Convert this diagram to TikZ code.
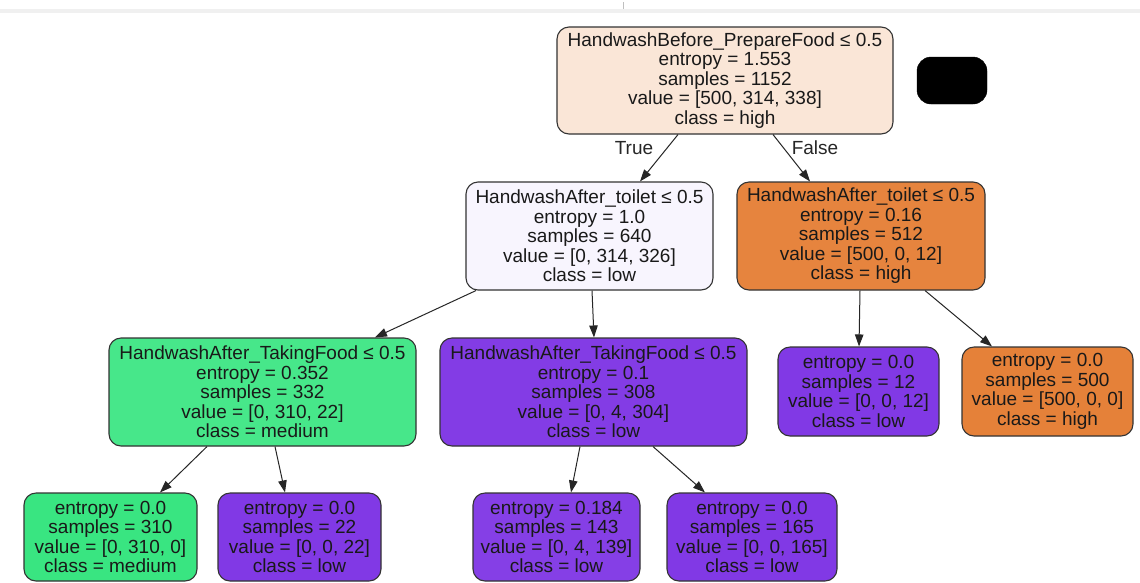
\documentclass[tikz,border=0pt]{standalone}
\usepackage{fontspec}
\setmainfont{Liberation Sans}
\usetikzlibrary{arrows.meta}
\definecolor{rootc}{HTML}{FAE6D7}
\definecolor{lowlt}{HTML}{F8F5FE}
\definecolor{higha}{HTML}{E6843E}
\definecolor{highc}{HTML}{E58139}
\definecolor{meda}{HTML}{47E78A}
\definecolor{medc}{HTML}{39E581}
\definecolor{lowa}{HTML}{833CE5}
\definecolor{lowc}{HTML}{8139E5}
\definecolor{lowb}{HTML}{853FE6}
\definecolor{edgec}{HTML}{333333}
\begin{document}
\begin{tikzpicture}[x=1pt,y=-1pt,
  box/.style={draw=edgec, line width=1.1pt, rounded corners=12pt, align=center,
    inner sep=0pt, font=\fontsize{19}{19.5}\selectfont, text=black!90},
  conn/.style={-{Triangle[length=12pt,width=8.5pt]}, line width=1pt, draw=black!85},
  lbl/.style={font=\fontsize{19}{19.5}\selectfont, inner sep=0pt, text=black!85}]
\useasboundingbox (0,0) rectangle (1140,582);
\fill[white] (0,0) rectangle (1140,582);
\fill[black!6] (0,9) rectangle (1140,13);
\draw[black!25, line width=0.6pt] (623,2) -- (623,9);

\node[box, fill=rootc, minimum width=336pt, minimum height=107pt] (root) at (725,80.5)
  {HandwashBefore\_PrepareFood ≤ 0.5\\entropy = 1.553\\samples = 1152\\value = [500, 314, 338]\\class = high};
\node[draw=black, fill=black, rounded corners=14pt, minimum width=70pt, minimum height=47pt, inner sep=0pt] (blk) at (952,80.5) {};

\node[box, fill=lowlt, minimum width=247pt, minimum height=108pt] (n1) at (589.5,236)
  {HandwashAfter\_toilet ≤ 0.5\\entropy = 1.0\\samples = 640\\value = [0, 314, 326]\\class = low};
\node[box, fill=higha, minimum width=248pt, minimum height=108pt] (n2) at (861,236)
  {HandwashAfter\_toilet ≤ 0.5\\entropy = 0.16\\samples = 512\\value = [500, 0, 12]\\class = high};

\node[box, fill=meda, minimum width=307pt, minimum height=108pt] (n3) at (262.5,392)
  {HandwashAfter\_TakingFood ≤ 0.5\\entropy = 0.352\\samples = 332\\value = [0, 310, 22]\\class = medium};
\node[box, fill=lowa, minimum width=307pt, minimum height=108pt] (n4) at (593.5,392)
  {HandwashAfter\_TakingFood ≤ 0.5\\entropy = 0.1\\samples = 308\\value = [0, 4, 304]\\class = low};
\node[box, fill=lowc, minimum width=161pt, minimum height=89pt] (n5) at (858.5,391.5)
  {entropy = 0.0\\samples = 12\\value = [0, 0, 12]\\class = low};
\node[box, fill=highc, minimum width=171pt, minimum height=89pt] (n6) at (1047.5,391.5)
  {entropy = 0.0\\samples = 500\\value = [500, 0, 0]\\class = high};

\node[box, fill=medc, minimum width=173pt, minimum height=88pt] (n7) at (110.5,537)
  {entropy = 0.0\\samples = 310\\value = [0, 310, 0]\\class = medium};
\node[box, fill=lowc, minimum width=163pt, minimum height=88pt] (n8) at (299.5,537)
  {entropy = 0.0\\samples = 22\\value = [0, 0, 22]\\class = low};
\node[box, fill=lowb, minimum width=167pt, minimum height=88pt] (n9) at (556.5,537)
  {entropy = 0.184\\samples = 143\\value = [0, 4, 139]\\class = low};
\node[box, fill=lowc, minimum width=170pt, minimum height=88pt] (n10) at (752,537)
  {entropy = 0.0\\samples = 165\\value = [0, 0, 165]\\class = low};

\draw[conn] ([xshift=-47pt]root.south) -- ([xshift=50.5pt]n1.north);
\draw[conn] ([xshift=48pt]root.south) -- ([xshift=-51pt]n2.north);
\draw[conn] ([xshift=-113.5pt]n1.south) -- ([xshift=112.5pt]n3.north);
\draw[conn] ([xshift=2.5pt]n1.south) -- ([xshift=0.5pt]n4.north);
\draw[conn] ([xshift=-1pt]n2.south) -- ([xshift=0.5pt]n5.north);
\draw[conn] ([xshift=64pt]n2.south) -- ([xshift=-55.5pt]n6.north);
\draw[conn] ([xshift=-55.5pt]n3.south) -- ([xshift=49.5pt]n7.north);
\draw[conn] ([xshift=12.5pt]n3.south) -- ([xshift=-14.5pt]n8.north);
\draw[conn] ([xshift=-13.5pt]n4.south) -- ([xshift=14.5pt]n9.north);
\draw[conn] ([xshift=59.5pt]n4.south) -- ([xshift=-47pt]n10.north);

\node[lbl] (ltrue) at (634,148) {True};
\node[lbl] (lfalse) at (815,148) {False};
\end{tikzpicture}
\end{document}
